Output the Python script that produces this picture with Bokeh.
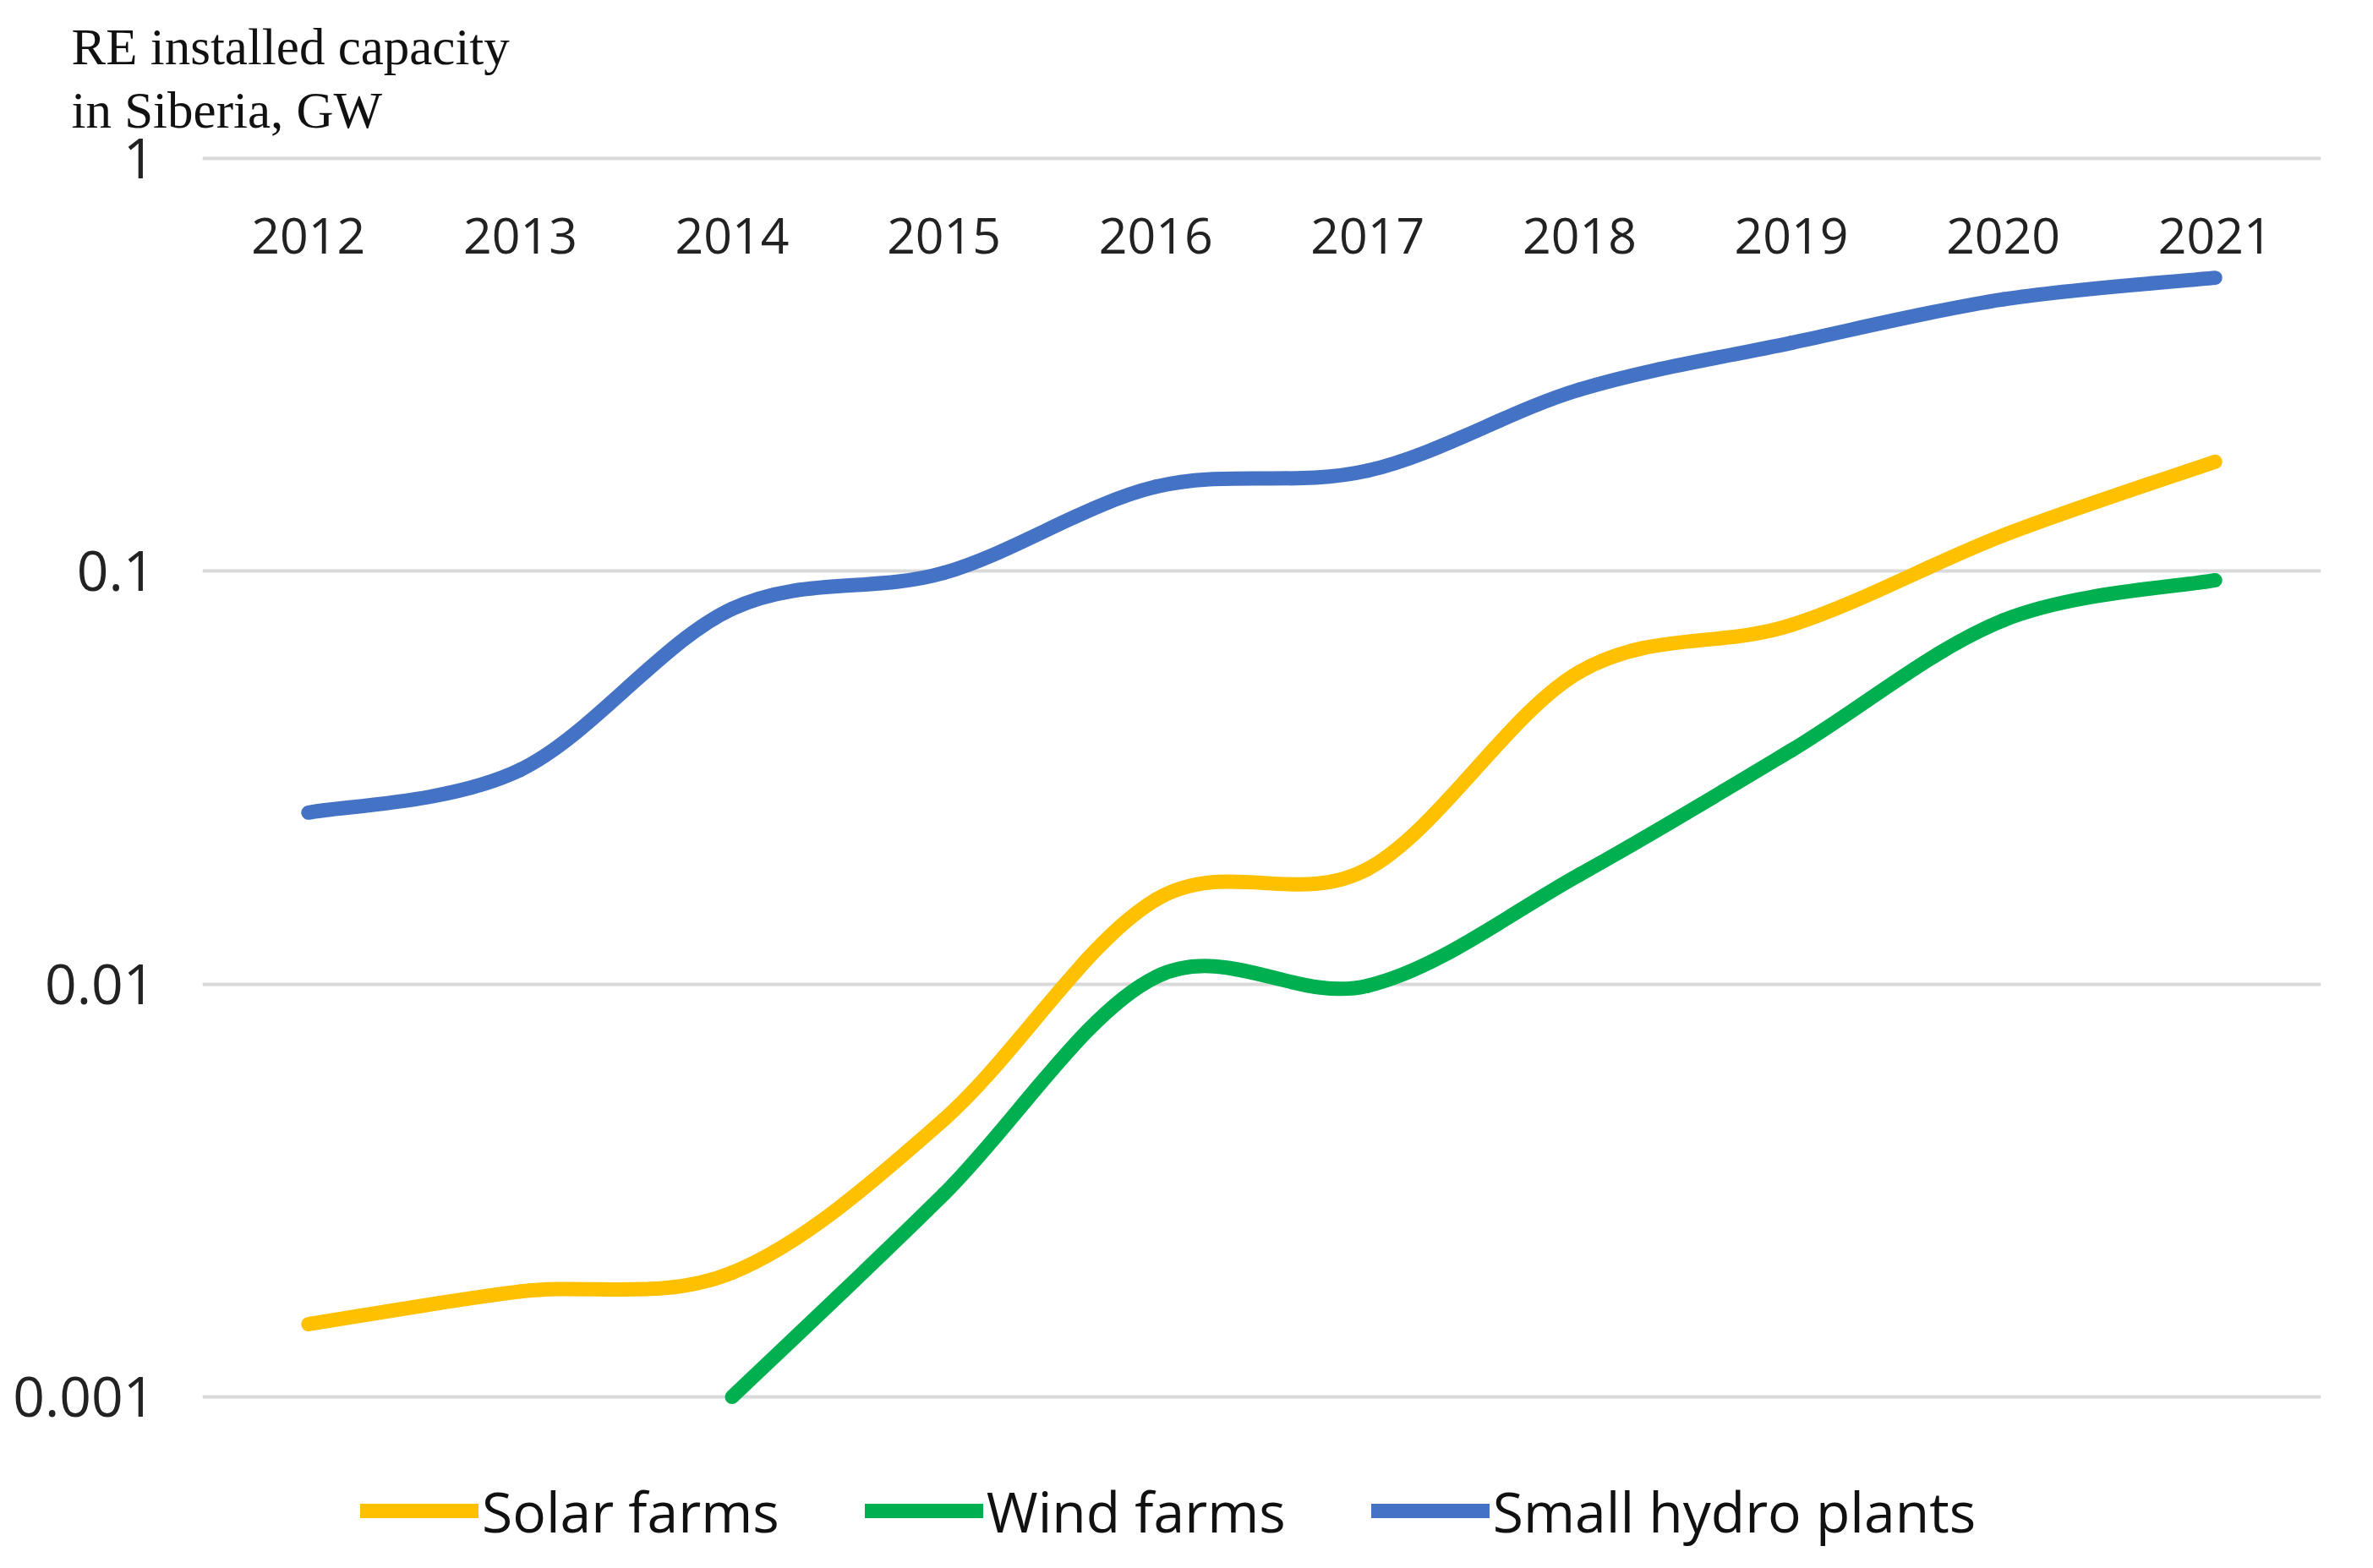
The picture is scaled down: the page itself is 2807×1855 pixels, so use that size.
import numpy as np
from bokeh.plotting import figure
from bokeh.models import (Range1d, FixedTicker, CustomJSTickFormatter, Legend, LegendItem,
                          ColumnDataSource, LabelSet)
from bokeh.core.properties import value
from bokeh.embed import file_html
from bokeh.resources import INLINE

# ---------------- data ----------------
years = [2012, 2013, 2014, 2015, 2016, 2017, 2018, 2019, 2020, 2021]
year_labels = [str(y) for y in years]
solar = [0.0015, 0.0018, 0.0020, 0.0047, 0.016, 0.019, 0.057, 0.074, 0.122, 0.184]
wind = [None, None, 0.0010, 0.0031, 0.0104, 0.0099, 0.0184, 0.0368, 0.076, 0.095]
hydro = [0.026, 0.033, 0.081, 0.099, 0.160, 0.175, 0.275, 0.357, 0.455, 0.513]

series_names = ["Solar farms", "Wind farms", "Small hydro plants"]
series_values = [solar, wind, hydro]
series_colors = ["#FFC000", "#00B050", "#4472C4"]

y_ticks = [0.001, 0.01, 0.1, 1]
title_text = "RE installed capacity\nin Siberia, GW"


def smooth_segments(xs, vs):
    """Cubic Bezier pieces (Catmull-Rom style smoothing, in log space) through the data."""
    pts = [(x, np.log10(v)) for x, v in zip(xs, vs) if v is not None]
    n = len(pts)
    out = dict(x0=[], y0=[], x1=[], y1=[], cx0=[], cy0=[], cx1=[], cy1=[])
    for i in range(n - 1):
        p0 = pts[i - 1] if i > 0 else pts[i]
        p1 = pts[i]
        p2 = pts[i + 1]
        p3 = pts[i + 2] if i + 2 < n else pts[i + 1]
        c1 = (p1[0] + (p2[0] - p0[0]) / 6.0, p1[1] + (p2[1] - p0[1]) / 6.0)
        c2 = (p2[0] - (p3[0] - p1[0]) / 6.0, p2[1] - (p3[1] - p1[1]) / 6.0)
        out["x0"].append(p1[0]); out["y0"].append(10 ** p1[1])
        out["x1"].append(p2[0]); out["y1"].append(10 ** p2[1])
        out["cx0"].append(c1[0]); out["cy0"].append(10 ** c1[1])
        out["cx1"].append(c2[0]); out["cy1"].append(10 ** c2[1])
    return ColumnDataSource(out)


# layout constants (pixels)
W, H = 2790, 1838
TOP, LEFT, RIGHT = 179, 239, 45
PAD = 1.012                      # small padding above the top gridline
PXD = 490.0                      # pixels per decade on the log axis
LABEL_DROP = 92                  # year labels sit this far below the top gridline
y_top = y_ticks[-1] * PAD
# the plot area reaches the bottom of the canvas so that the legend below the
# last gridline is drawn inside it (no gridline or tick is placed down there)
y_bottom = y_top / 10 ** ((H - TOP) / PXD)

p = figure(
    width=W, height=H,
    x_range=Range1d(years[0] - 0.5, years[-1] + 0.5),
    y_range=Range1d(y_bottom, y_top),
    y_axis_type="log",
    output_backend="svg", toolbar_location=None,
    min_border_left=LEFT, min_border_right=RIGHT,
    min_border_top=TOP, min_border_bottom=0,
)
p.outline_line_color = None
p.background_fill_color = "white"
p.border_fill_color = "white"

# title
p.title.text = title_text
p.title.align = "left"
p.title.offset = -155
p.title.text_font = "Liberation Serif"
p.title.text_font_size = "61px"
p.title.text_font_style = "normal"
p.title.text_color = "#111111"
p.title.text_line_height = 1.12
p.title.standoff = 40

# grid
p.xgrid.visible = False
p.ygrid.grid_line_color = "#D9D9D9"
p.ygrid.grid_line_width = 4

# y axis
yax = p.yaxis[0]
yax.ticker = FixedTicker(ticks=y_ticks, minor_ticks=[])
yax.formatter = CustomJSTickFormatter(code="return String(tick)")
yax.axis_line_color = None
yax.major_tick_line_color = None
yax.minor_tick_line_color = None
yax.major_tick_out = 0
yax.major_label_standoff = 56
yax.major_label_text_font = "Open Sans"
yax.major_label_text_font_size = "66px"
yax.major_label_text_color = "#222222"

# category labels: in the reference they sit just below the top gridline
p.xaxis.visible = False
label_y = y_ticks[-1] / 10 ** (LABEL_DROP / PXD)
year_src = ColumnDataSource(dict(x=years, y=[label_y] * len(years), text=year_labels))
p.add_layout(LabelSet(x="x", y="y", text="text", source=year_src,
                      text_align="center", text_baseline="middle",
                      text_font=value("Open Sans"), text_font_size="59px",
                      text_color="#222222"))

items = []
for name, vals, col in zip(series_names, series_values, series_colors):
    src = smooth_segments(years, vals)
    r = p.bezier(x0="x0", y0="y0", x1="x1", y1="y1", cx0="cx0", cy0="cy0",
                 cx1="cx1", cy1="cy1", source=src, line_color=col,
                 line_width=17, line_cap="round")
    items.append(LegendItem(label=name, renderers=[r]))

legend = Legend(items=items, orientation="horizontal", location=(187, 6),
                glyph_width=140, glyph_height=80, label_height=80,
                label_standoff=4, spacing=101, padding=0, margin=0,
                border_line_color=None, background_fill_alpha=0,
                label_text_font="Open Sans", label_text_font_size="66px",
                label_text_color="#111111")
p.add_layout(legend, "center")

open("out.html", "w").write(file_html(p, INLINE))
